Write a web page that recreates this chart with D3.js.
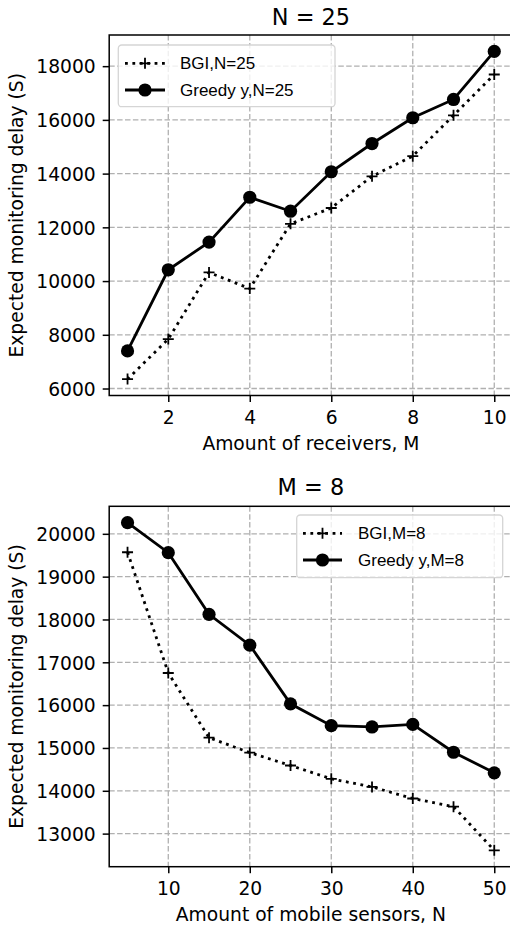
<!DOCTYPE html>
<html>
<head>
<meta charset="utf-8">
<script src="https://cdn.jsdelivr.net/npm/d3@7/dist/d3.min.js"></script>
<style>
  html, body { margin: 0; padding: 0; background: #ffffff; }
  svg { display: block; }
</style>
</head>
<body>
<svg id="chart" width="510" height="925"></svg>
<script>
// ---------------- data ----------------
const receivers = [1, 2, 3, 4, 5, 6, 7, 8, 9, 10];
const bgiN25 = [6350, 7840, 10320, 9720, 12130, 12720, 13900, 14650, 16170, 17690];
const greedyN25 = [7400, 10420, 11450, 13120, 12600, 14070, 15120, 16080, 16760, 18550];

const sensors = [5, 10, 15, 20, 25, 30, 35, 40, 45, 50];
const bgiM8 = [19570, 16750, 15240, 14890, 14590, 14280, 14090, 13820, 13630, 12610];
const greedyM8 = [20260, 19560, 18120, 17400, 16030, 15520, 15490, 15550, 14900, 14420];

const xTicksTop = [2, 4, 6, 8, 10];
const yTicksTop = [6000, 8000, 10000, 12000, 14000, 16000, 18000];
const xTicksBottom = [10, 20, 30, 40, 50];
const yTicksBottom = [13000, 14000, 15000, 16000, 17000, 18000, 19000, 20000];

const titles = ["N = 25", "M = 8"];
const xLabels = ["Amount of receivers, M", "Amount of mobile sensors, N"];
const yLabel = "Expected monitoring delay (S)";
const legendTop = ["BGI,N=25", "Greedy y,N=25"];
const legendBottom = ["BGI,M=8", "Greedy y,M=8"];

// ---------------- drawing ----------------
const svg = d3.select("#chart");
const FONT = "'DejaVu Sans', sans-serif";
const LFONT = "'Liberation Sans', Arial, sans-serif";

function padDomain(vals) {
  const [a, b] = d3.extent(vals);
  const m = (b - a) * 0.05;
  return [a - m, b + m];
}

function panel(cfg) {
  const g = svg.append("g");
  const x = d3.scaleLinear().domain(padDomain(cfg.xs)).range([cfg.left, cfg.right]);
  const y = d3.scaleLinear().domain(padDomain(cfg.bgi.concat(cfg.greedy))).range([cfg.bottom, cfg.top]);

  // grid
  const grid = g.append("g").attr("stroke", "#b0b0b0").attr("stroke-width", 1.3)
    .attr("stroke-dasharray", "5.5,2.4").attr("fill", "none");
  cfg.xTicks.forEach(t => grid.append("line")
    .attr("x1", x(t)).attr("x2", x(t)).attr("y1", cfg.top).attr("y2", cfg.bottom));
  cfg.yTicks.forEach(t => grid.append("line")
    .attr("x1", cfg.left).attr("x2", cfg.right).attr("y1", y(t)).attr("y2", y(t)));

  // axes via d3
  const xAxis = d3.axisBottom(x).tickValues(cfg.xTicks).tickSize(6.5).tickPadding(9).tickFormat(d3.format("d"));
  const yAxis = d3.axisLeft(y).tickValues(cfg.yTicks).tickSize(6.5).tickPadding(7.5).tickFormat(d3.format("d"));
  const gx = g.append("g").attr("transform", `translate(0,${cfg.bottom})`).call(xAxis);
  const gy = g.append("g").attr("transform", `translate(${cfg.left},0)`).call(yAxis);
  [gx, gy].forEach(a => {
    a.select(".domain").remove();
    a.selectAll(".tick line").attr("stroke", "#000").attr("stroke-width", 1.5);
    a.selectAll(".tick text").attr("font-family", FONT).attr("font-size", 18.7).attr("fill", "#000");
  });
  gx.selectAll(".tick text").attr("dy", null).attr("y", 28.3).attr("dominant-baseline", "auto");
  gy.selectAll(".tick text").attr("dy", null).attr("y", 6.8).attr("x", -13.5);

  // lines
  const line = d3.line().x((d, i) => x(cfg.xs[i])).y(d => y(d));
  g.append("path").datum(cfg.bgi).attr("d", line).attr("fill", "none")
    .attr("stroke", "#000").attr("stroke-width", 2.8).attr("stroke-dasharray", "2.8,4.6");
  g.append("path").datum(cfg.greedy).attr("d", line).attr("fill", "none")
    .attr("stroke", "#000").attr("stroke-width", 2.8);

  const plus = (cx, cy, h) => `M${cx - h},${cy}H${cx + h}M${cx},${cy - h}V${cy + h}`;
  g.append("g").selectAll("path").data(cfg.bgi).join("path")
    .attr("d", (d, i) => plus(x(cfg.xs[i]), y(d), 5.5))
    .attr("stroke", "#000").attr("stroke-width", 1.8).attr("fill", "none");
  g.append("g").selectAll("circle").data(cfg.greedy).join("circle")
    .attr("cx", (d, i) => x(cfg.xs[i])).attr("cy", d => y(d)).attr("r", 6.6).attr("fill", "#000");

  // spines
  g.append("rect").attr("x", cfg.left).attr("y", cfg.top)
    .attr("width", cfg.right - cfg.left).attr("height", cfg.bottom - cfg.top)
    .attr("fill", "none").attr("stroke", "#000").attr("stroke-width", 1.5);

  // title & labels
  const cx = (cfg.left + cfg.right) / 2;
  g.append("text").attr("x", cx).attr("y", cfg.titleY).attr("text-anchor", "middle")
    .attr("font-family", FONT).attr("font-size", 22.4).attr("fill", "#000").text(cfg.title);
  g.append("text").attr("x", cx).attr("y", cfg.bottom + 54.2).attr("text-anchor", "middle")
    .attr("font-family", FONT).attr("font-size", 18.7).attr("fill", "#000").text(cfg.xLabel);
  const cy = (cfg.top + cfg.bottom) / 2;
  g.append("text").attr("transform", `translate(23,${cy}) rotate(-90)`).attr("text-anchor", "middle")
    .attr("font-family", FONT).attr("font-size", 18.7).attr("fill", "#000").text(yLabel);

  // legend
  const L = cfg.legend;
  const lg = g.append("g");
  lg.append("rect").attr("x", L.x0).attr("y", L.y0).attr("width", L.x1 - L.x0).attr("height", L.y1 - L.y0)
    .attr("rx", 3.5).attr("fill", "rgba(255,255,255,0.8)").attr("stroke", "#d5d5d5").attr("stroke-width", 1.3);
  const hx0 = L.hx0, hx1 = L.hx1, hm = (hx0 + hx1) / 2;
  lg.append("line").attr("x1", hx0).attr("x2", hx1).attr("y1", L.rows[0]).attr("y2", L.rows[0])
    .attr("stroke", "#000").attr("stroke-width", 2.8).attr("stroke-dasharray", "2.8,4.6");
  lg.append("path").attr("d", plus(hm, L.rows[0], 5.5)).attr("stroke", "#000").attr("stroke-width", 1.8);
  lg.append("line").attr("x1", hx0).attr("x2", hx1).attr("y1", L.rows[1]).attr("y2", L.rows[1])
    .attr("stroke", "#000").attr("stroke-width", 2.8);
  lg.append("circle").attr("cx", hm).attr("cy", L.rows[1]).attr("r", 6.6).attr("fill", "#000");
  cfg.legendText.forEach((t, i) => lg.append("text").attr("x", L.tx).attr("y", L.rows[i] + 6.1)
    .attr("font-family", LFONT).attr("font-size", 17).attr("fill", "#000").text(t));
}

panel({
  xs: receivers, bgi: bgiN25, greedy: greedyN25,
  xTicks: xTicksTop, yTicks: yTicksTop,
  left: 109.2, right: 512.6, top: 35, bottom: 395.5, titleY: 25,
  title: titles[0], xLabel: xLabels[0], legendText: legendTop,
  legend: { x0: 118.3, x1: 335, y0: 45, y1: 106.7, rows: [63.3, 90], hx0: 125, hx1: 165, tx: 180 }
});
panel({
  xs: sensors, bgi: bgiM8, greedy: greedyM8,
  xTicks: xTicksBottom, yTicks: yTicksBottom,
  left: 109.2, right: 512.6, top: 506.3, bottom: 866.7, titleY: 495,
  title: titles[1], xLabel: xLabels[1], legendText: legendBottom,
  legend: { x0: 296.7, x1: 502.7, y0: 515, y1: 577.7, rows: [533.3, 560], hx0: 303, hx1: 342, tx: 358 }
});
</script>
</body>
</html>
